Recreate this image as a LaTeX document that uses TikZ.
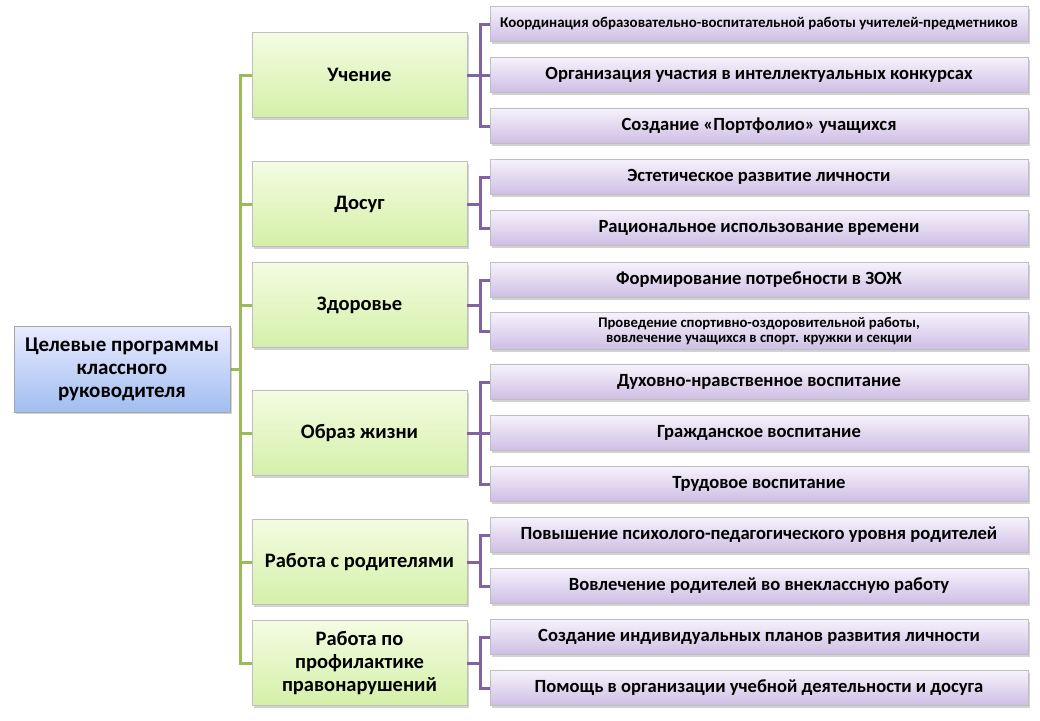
\documentclass[tikz,border=0pt]{standalone}
\usepackage{fontspec}
\setmainfont{Carlito}
\usetikzlibrary{shadows}
\definecolor{gl}{HTML}{9BBB59}
\definecolor{pl}{HTML}{8064A2}
\tikzset{
  x=1pt,y=-1pt,
  rootbox/.style={draw=black!35, line width=0.6pt, top color=blue!8!white, bottom color={rgb,255:red,160;green,190;blue,240},
    minimum width=216pt, minimum height=86pt, align=center, font=\fontsize{21}{23}\selectfont\bfseries,
    drop shadow={shadow xshift=2pt,shadow yshift=-2pt,opacity=0.35}},
  greenbox/.style={draw=black!25, line width=0.6pt, top color={rgb,255:red,244;green,252;blue,226}, bottom color={rgb,255:red,212;green,240;blue,168},
    minimum width=215pt, minimum height=85pt, align=center, font=\fontsize{20.5}{23}\selectfont\bfseries,
    drop shadow={shadow xshift=2pt,shadow yshift=-2pt,opacity=0.35}},
  purplebox/.style={draw=black!25, line width=0.6pt, top color={rgb,255:red,246;green,242;blue,252}, bottom color={rgb,255:red,206;green,190;blue,228},
    minimum width=538pt, minimum height=35pt, align=center, font=\fontsize{18.6}{21}\selectfont\bfseries,
    drop shadow={shadow xshift=2pt,shadow yshift=-2pt,opacity=0.35}},
  small/.style={font=\fontsize{14.9}{16}\selectfont\bfseries},
  gline/.style={draw=gl, line width=3pt},
  pline/.style={draw=pl, line width=3pt},
}
\begin{document}
\begin{tikzpicture}
\useasboundingbox[fill=white] (0,0) rectangle (1040,720);
\coordinate (tx) at (240,0);
\coordinate (rc) at (230,369);
\coordinate (g1w) at (252,75);
\coordinate (g2w) at (252,204);
\coordinate (g3w) at (252,305);
\coordinate (g4w) at (252,433);
\coordinate (g5w) at (252,562);
\coordinate (g6w) at (252,663);
\foreach \g in {g1w,g2w,g3w,g4w,g5w,g6w}
  \draw[gline] (rc) -- (rc -| tx) |- (\g);

\node[rootbox] (root) at (122,369) {Целевые программы\\классного\\руководителя};

\node[greenbox] (g1) at (359.5,75) {Учение};
\node[greenbox] (g2) at (359.5,204) {Досуг};
\node[greenbox] (g3) at (359.5,305) {Здоровье};
\node[greenbox] (g4) at (359.5,433) {Образ жизни};
\node[greenbox] (g5) at (359.5,562) {Работа с родителями};
\node[greenbox] (g6) at (359.5,663) {Работа по\\профилактике\\правонарушений};

\node[purplebox,small] (p11) at (759,24) {Координация образовательно-воспитательной работы учителей-предметников};
\node[purplebox] (p12) at (759,75) {Организация участия в интеллектуальных конкурсах};
\node[purplebox] (p13) at (759,126) {Создание «Портфолио» учащихся};
\node[purplebox] (p21) at (759,177) {Эстетическое развитие личности};
\node[purplebox] (p22) at (759,228) {Рациональное использование времени};
\node[purplebox] (p31) at (759,280) {Формирование потребности в ЗОЖ};
\node[purplebox,minimum height=37pt,font=\fontsize{14.7}{15.5}\selectfont\bfseries] (p32) at (759,331) {Проведение спортивно-оздоровительной работы,\\вовлечение учащихся в спорт. кружки и секции};
\node[purplebox] (p41) at (759,382) {Духовно-нравственное воспитание};
\node[purplebox] (p42) at (759,433) {Гражданское воспитание};
\node[purplebox] (p43) at (759,484) {Трудовое воспитание};
\node[purplebox] (p51) at (759,535) {Повышение психолого-педагогического уровня родителей};
\node[purplebox] (p52) at (759,586) {Вовлечение родителей во внеклассную работу};
\node[purplebox] (p61) at (759,637) {Создание индивидуальных планов развития личности};
\node[purplebox] (p62) at (759,688) {Помощь в организации учебной деятельности и досуга};

\foreach \p in {p11,p12,p13} \draw[pline] (g1.east) -- ++(13,0) |- (\p.west);
\foreach \p in {p21,p22} \draw[pline] (g2.east) -- ++(13,0) |- (\p.west);
\foreach \p in {p31,p32} \draw[pline] (g3.east) -- ++(13,0) |- (\p.west);
\foreach \p in {p41,p42,p43} \draw[pline] (g4.east) -- ++(13,0) |- (\p.west);
\foreach \p in {p51,p52} \draw[pline] (g5.east) -- ++(13,0) |- (\p.west);
\foreach \p in {p61,p62} \draw[pline] (g6.east) -- ++(13,0) |- (\p.west);
\end{tikzpicture}
\end{document}
